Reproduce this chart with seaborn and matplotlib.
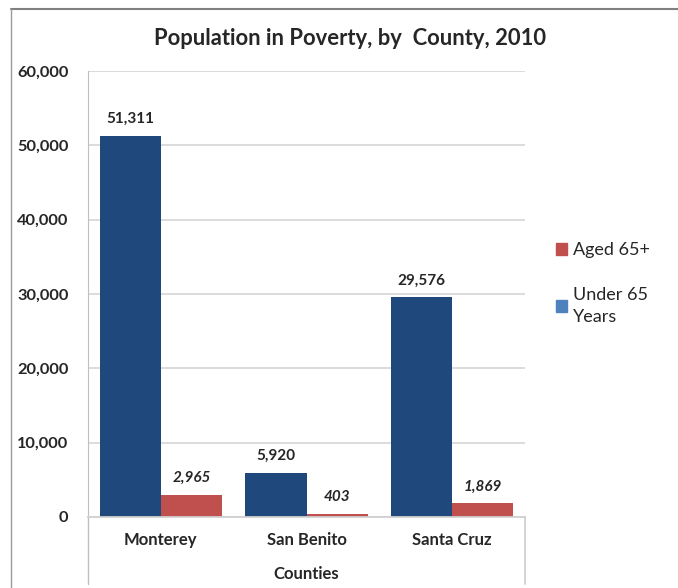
import pandas as pd
import matplotlib.pyplot as plt
import seaborn as sns
from matplotlib.patches import Patch
from matplotlib.lines import Line2D

# Dados do gráfico
counties = ["Monterey", "San Benito", "Santa Cruz"]
under_65 = [51311, 5920, 29576]
aged_65 = [2965, 403, 1869]
groups = ["Under 65 Years", "Aged 65+"]
y_ticks = [0, 10000, 20000, 30000, 40000, 50000, 60000]

df = pd.DataFrame({
    "County": counties * 2,
    "Group": [groups[0]] * 3 + [groups[1]] * 3,
    "Population": under_65 + aged_65,
})

sns.set_style("white")
plt.rcParams["font.family"] = ["Lato", "DejaVu Sans"]

blue = "#1F497D"
red = "#C0504D"

fig = plt.figure(figsize=(6.78, 5.88), dpi=100)
ax = fig.add_axes([88 / 678, 1 - 517 / 588, (525 - 88) / 678, (517 - 71) / 588])

sns.barplot(data=df, x="County", y="Population", hue="Group", hue_order=groups,
            palette=[blue, red], width=0.84, saturation=1, linewidth=0,
            ax=ax, legend=False)

ax.set_ylim(0, 60000)
ax.set_xlim(-0.5, 2.5)
ax.set_yticks(y_ticks)
ax.set_yticklabels([f"{t:,}" for t in y_ticks], fontsize=11.8, fontweight="bold")
ax.set_xticks(range(len(counties)))
ax.set_xticklabels(counties, fontsize=12, fontweight="bold")
ax.tick_params(axis="both", length=0, pad=14)
ax.tick_params(axis="x", pad=11)
ax.set_ylabel("")
ax.set_xlabel("Counties", fontsize=12, fontweight="bold", labelpad=13)

ax.yaxis.grid(True, color="#D9D9D9", linewidth=1.3)
ax.set_axisbelow(True)
for s in ["top", "right"]:
    ax.spines[s].set_visible(False)
ax.spines["left"].set_color("#BFBFBF")
ax.spines["bottom"].set_color("#D0D0D0")
ax.spines["bottom"].set_linewidth(1.3)

# linhas verticais que descem até o fim da área
ax.add_line(Line2D([0, 0], [0, -0.15], transform=ax.transAxes, color="#BFBFBF",
                   linewidth=1, clip_on=False))
ax.add_line(Line2D([1, 1], [0, -0.15], transform=ax.transAxes, color="#D0D0D0",
                   linewidth=1.3, clip_on=False))

# Rótulos de valores
ax.bar_label(ax.containers[0], labels=[f"{v:,}" for v in under_65], padding=7,
             fontsize=11, fontweight="bold")
ax.bar_label(ax.containers[1], labels=[f"{v:,}" for v in aged_65], padding=7,
             fontsize=11, fontweight="bold", fontstyle="italic")

fig.suptitle("Population in Poverty, by  County, 2010", x=350 / 678, y=1 - 28 / 588,
             fontsize=15.8, fontweight="bold")

handles = [Patch(color=red), Patch(color="#4F81BD")]
leg = fig.legend(handles, ["Aged 65+", "Under 65\nYears"], loc="upper left",
                 bbox_to_anchor=(540 / 678, 1 - 226 / 588), frameon=False, fontsize=13,
                 handlelength=0.6, handleheight=0.6, handletextpad=0.35,
                 labelspacing=1.6)
for t in leg.get_texts():
    t.set_linespacing(1.45)

# moldura
fig.add_artist(Line2D([11 / 678, 1], [1 - 9 / 588, 1 - 9 / 588], color="#808080", linewidth=1.5))
fig.add_artist(Line2D([11 / 678, 11 / 678], [0, 1 - 9 / 588], color="#9A9A9A", linewidth=1))

fig.savefig("out.png", dpi=100)
